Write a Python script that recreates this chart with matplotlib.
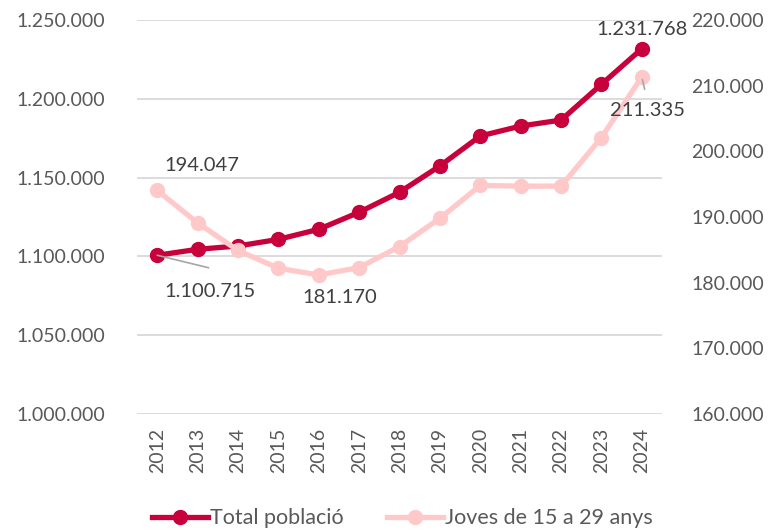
import matplotlib.pyplot as plt
from matplotlib.ticker import FuncFormatter

years = ["2012", "2013", "2014", "2015", "2016", "2017", "2018",
         "2019", "2020", "2021", "2022", "2023", "2024"]
total = [1100715, 1104500, 1106600, 1110800, 1117200, 1128000, 1140700,
         1157400, 1176400, 1182700, 1186500, 1209200, 1231768]
joves = [194047, 189100, 184900, 182200, 181170, 182300, 185500,
         189800, 194800, 194700, 194700, 202100, 211335]

plt.rcParams['font.family'] = ['Lato', 'DejaVu Sans']

dark = "#C8003C"
pink = "#FFC9C9"
txt = "#595959"


def dots(v, pos):
    return f"{int(v):,}".replace(",", ".")


fig = plt.figure(figsize=(7.71, 5.30), dpi=100)
ax = fig.add_axes([0.1777, 0.2189, 0.681, 0.7434])
ax2 = ax.twinx()

x = range(len(years))
ax.plot(x, total, color=dark, lw=3.8, marker="o", ms=10, label="Total població")
ax2.plot(x, joves, color=pink, lw=3.8, marker="o", ms=10, label="Joves de 15 a 29 anys")

ax.set_ylim(1000000, 1250000)
ax.set_yticks(range(1000000, 1250001, 50000))
ax2.set_ylim(160000, 220000)
ax2.set_yticks(range(160000, 220001, 10000))
ax.set_xlim(-0.5, len(years) - 0.5)
ax.set_xticks(list(x))
ax.set_xticklabels(years, rotation=90)
ax.yaxis.set_major_formatter(FuncFormatter(dots))
ax2.yaxis.set_major_formatter(FuncFormatter(dots))

ax.grid(axis="y", color="#D9D9D9", lw=1.3)
ax.set_axisbelow(True)
for a in (ax, ax2):
    for s in a.spines.values():
        s.set_visible(False)
    a.tick_params(length=0, labelsize=14, colors=txt)
ax.tick_params(axis="y", pad=23)
ax.tick_params(axis="x", pad=10)
ax2.tick_params(axis="y", pad=21)

lab = dict(fontsize=14.5, color="#404040")
leader = dict(arrowstyle="-", color="#A6A6A6", lw=1.2, shrinkA=0, shrinkB=0)
# leader line of the first total label, then the label itself
ax.annotate("", (0, total[0]), xytext=(37, -9), textcoords="offset points", arrowprops=leader)
ax.annotate(dots(total[0], 0), (0, total[0]), xytext=(5, -26), textcoords="offset points",
            ha="left", va="center", **lab)
ax.annotate(dots(total[-1], 0), (12, total[-1]), xytext=(0, 14), textcoords="offset points",
            ha="center", va="center", **lab)
ax2.annotate(dots(joves[0], 0), (0, joves[0]), xytext=(32, 18), textcoords="offset points",
             ha="center", va="center", **lab)
ax2.annotate(dots(joves[4], 0), (4, joves[4]), xytext=(15, -16), textcoords="offset points",
             ha="center", va="center", **lab)
ax2.annotate("", (12, joves[-1]), xytext=(2, -9), textcoords="offset points",
             arrowprops=dict(leader, shrinkB=2))
ax2.annotate(dots(joves[-1], 0), (12, joves[-1]), xytext=(4, -24), textcoords="offset points",
             ha="center", va="center", **lab)

h1, l1 = ax.get_legend_handles_labels()
h2, l2 = ax2.get_legend_handles_labels()
fig.legend(h1 + h2, l1 + l2, loc="center", bbox_to_anchor=(0.522, 0.022), ncol=2,
           frameon=False, fontsize=15.5, labelcolor=txt, handlelength=2.6,
           handletextpad=0.1, columnspacing=2.0)

fig.savefig("out.png", dpi=100)
